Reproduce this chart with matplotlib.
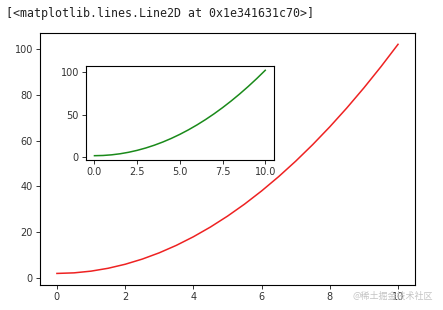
import matplotlib.pyplot as plt

# values
x = [0, 0.5, 1, 1.5, 2, 2.5, 3, 3.5, 4, 4.5, 5, 5.5, 6, 6.5, 7, 7.5, 8, 8.5, 9, 9.5, 10]
y = [2, 2.25, 3, 4.25, 6, 8.25, 11, 14.25, 18, 22.25, 27, 32.25, 38, 44.25, 51,
     58.25, 66, 74.25, 83, 92.25, 102]

plt.rcParams['font.size'] = 7

fig = plt.figure(figsize=(4.43, 3.10), dpi=100)

# output line from the notebook cell
fig.text(0.013, 0.958, '[<matplotlib.lines.Line2D at 0x1e341631c70>]',
         family='DejaVu Sans Mono', fontsize=8.4, color='#222222', va='center')

# main axes
ax = fig.add_axes([0.090, 0.081, 0.847, 0.813])
ax.plot(x, y, color='#ee2222', lw=1.1)
ax.set_xticks([0, 2, 4, 6, 8, 10])
ax.set_yticks([0, 20, 40, 60, 80, 100])

# inset axes
ax2 = fig.add_axes([0.194, 0.484, 0.424, 0.303])
ax2.plot(x, y, color='#1a8a1a', lw=1.1)
ax2.set_xticks([0, 2.5, 5, 7.5, 10])
ax2.set_yticks([0, 50, 100])

for a in (ax, ax2):
    a.tick_params(length=3, width=0.7, pad=2, colors='#333333')
    for s in a.spines.values():
        s.set_linewidth(0.8)

# watermark
fig.text(0.978, 0.045, '@稀土掘金技术社区', family=['Noto Sans CJK SC', 'DejaVu Sans'],
         fontsize=6.5, color='#c4c4c4', ha='right', va='center')

fig.savefig('out.png', dpi=100)
